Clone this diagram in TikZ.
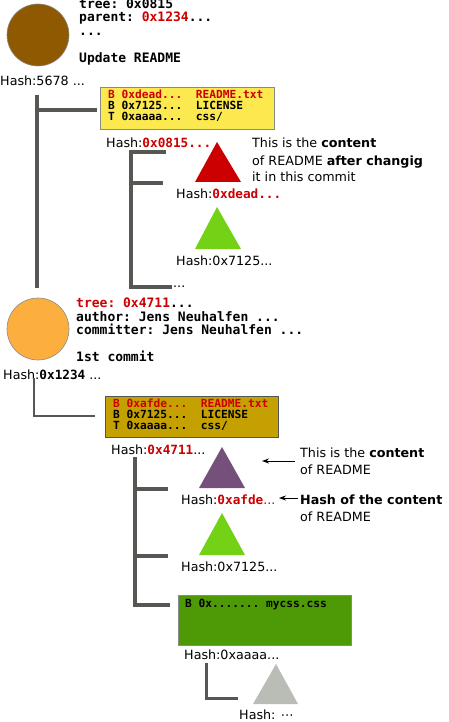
\documentclass[tikz,border=0pt]{standalone}
\usepackage{fontspec}
\setmainfont{DejaVu Sans}
\setmonofont{DejaVu Sans Mono}
\usetikzlibrary{arrows.meta}
\definecolor{tbrown}{HTML}{8F5902}
\definecolor{torange}{HTML}{FCAF3E}
\definecolor{tyellow}{HTML}{FCE94F}
\definecolor{tdyellow}{HTML}{C4A000}
\definecolor{tred}{HTML}{CC0000}
\definecolor{tgreen}{HTML}{73D216}
\definecolor{tdgreen}{HTML}{4E9A06}
\definecolor{tpurple}{HTML}{75507B}
\definecolor{tgray}{HTML}{BABDB6}
\definecolor{tline}{HTML}{555753}
\definecolor{tborder}{HTML}{888A85}
\newcommand{\mb}{\ttfamily\bfseries}
\begin{document}
\begin{tikzpicture}[x=1pt,y=-1pt,
  mono/.style={font=\fontsize{13}{14}\selectfont\ttfamily\bfseries, inner sep=0pt, anchor=base west},
  boxt/.style={font=\fontsize{11.2}{12}\selectfont\ttfamily\bfseries, inner sep=0pt, anchor=base west},
  sans/.style={font=\fontsize{12.7}{14}\selectfont, inner sep=0pt, anchor=base west},
  treebox/.style={draw=tborder, line width=1.2pt, inner sep=0pt, anchor=north west},
  treeline/.style={draw=tline, line width=4pt},
  thinline/.style={draw=tline, line width=2.5pt},
  commit/.style={circle, draw=tline!70, line width=0.6pt, minimum size=62pt, inner sep=0pt},
  note/.style={-{Stealth[length=7pt,width=5pt]}, line width=1pt, black}
]
\useasboundingbox (0,0) rectangle (448,722);

% ---- commit 1 ----
\node[commit, fill=tbrown] (c1) at (38,35) {};
\node[mono] (c1a) at (79,8.5) {tree: 0x0815};
\node[mono] (c1b) at (79,22) {parent: \textcolor{tred}{0x1234}...};
\node[mono] (c1c) at (79,35.5) {...};
\node[mono] (c1d) at (79,62.5) {Update README};
\node[sans] (h1) at (0,86) {Hash:5678 ...};

\node[treebox, fill=tyellow, minimum width=174pt, minimum height=42pt] (t1) at (100,87) {};
\node[boxt, text=tred] (t1a) at (108,99) {B 0xdead...\ \ README.txt};
\node[boxt] (t1b) at (108,110) {B 0x7125...\ \ LICENSE};
\node[boxt] (t1c) at (108,121) {T 0xaaaa...\ \ css/};

\coordinate (v1top) at (37,95);
\coordinate (v1j) at (37,110);
\coordinate (v1bot) at (37,288);
\coordinate (v1end) at (97,110);
\path[treeline] (v1top) -- (v1bot);
\path[treeline] (v1j) -- (v1end);

\node[sans] (h2) at (106,148) {Hash:\textcolor{tred}{\mb 0x0815...}};
\fill[tred] (217,142) coordinate (r1) -- (195,182) -- (241,182) -- cycle;
\node[sans] (n1a) at (252,148) {This is the \textbf{content}};
\node[sans] (n1b) at (252,165) {of README \textbf{after changig}};
\node[sans] (n1c) at (252,182) {it in this commit};

\coordinate (a1) at (166,152);
\coordinate (a2) at (131,152);
\coordinate (a3) at (131,287);
\coordinate (a4) at (172,287);
\coordinate (a5) at (131,183);
\coordinate (a6) at (163,183);
\path[treeline] (a1) -- (a2) -- (a3) -- (a4);
\path[treeline] (a5) -- (a6);
\node[sans] (dots1) at (173,287) {...};

\node[sans] (h3) at (176,198) {Hash:\textcolor{tred}{\mb 0xdead...}};
\fill[tgreen] (217,207) -- (195,249) -- (241,249) -- cycle;
\node[sans] (h4) at (176,265) {Hash:0x7125...};

% ---- commit 2 ----
\node[commit, fill=torange] (c2) at (38,329) {};
\node[mono] (c2a) at (76,307) {\textcolor{tred}{tree: 0x4711}...};
\node[mono] (c2b) at (76,321) {author: Jens Neuhalfen ...};
\node[mono] (c2c) at (76,334) {committer: Jens Neuhalfen ...};
\node[mono] (c2d) at (76,361) {1st commit};
\node[sans] (h5) at (3,379) {Hash:{\mb 0x1234} ...};

\coordinate (b1) at (34,378);
\coordinate (b2) at (34,416);
\coordinate (b3) at (95,416);
\path[thinline] (b1) -- (b2) -- (b3);

\node[treebox, draw=tline, fill=tdyellow, minimum width=173pt, minimum height=41pt] (t2) at (105,396) {};
\node[boxt, text=tred] (t2a) at (113,407) {B 0xafde...\ \ README.txt};
\node[boxt] (t2b) at (113,418.5) {B 0x7125...\ \ LICENSE};
\node[boxt] (t2c) at (113,429.5) {T 0xaaaa...\ \ css/};

\node[sans] (h6) at (111,454) {Hash:\textcolor{tred}{\mb 0x4711}...};
\fill[tpurple] (222,447) -- (199,488) -- (245,488) -- cycle;
\node[sans] (n2a) at (300,457) {This is the \textbf{content}};
\node[sans] (n2b) at (300,474) {of README};
\coordinate (p1s) at (295,461);
\coordinate (p1e) at (262,461);
\draw[note] (p1s) -- (p1e);

\node[sans] (h7) at (181,504) {Hash:\textcolor{tred}{{\mb 0xafde}...}};
\node[sans] (n3a) at (300,504) {\textbf{Hash of the content}};
\node[sans] (n3b) at (300,521) {of README};
\coordinate (p2s) at (298,498);
\coordinate (p2e) at (279,498);
\draw[note] (p2s) -- (p2e);

\fill[tgreen] (222,513) -- (199,555) -- (245,555) -- cycle;
\node[sans] (h8) at (181,571) {Hash:0x7125...};

\coordinate (d1) at (135,457);
\coordinate (d2) at (135,605);
\coordinate (d3) at (170,605);
\coordinate (d4) at (135,489);
\coordinate (d5) at (168,489);
\coordinate (d6) at (135,556);
\coordinate (d7) at (168,556);
\path[treeline] (d1) -- (d2) -- (d3);
\path[treeline] (d4) -- (d5);
\path[treeline] (d6) -- (d7);

\node[treebox, fill=tdgreen, minimum width=173pt, minimum height=50pt] (t3) at (178,595) {};
\node[boxt] (t3a) at (185,607) {B 0x....... mycss.css};
\node[sans] (h9) at (184,659) {Hash:0xaaaa...};

\coordinate (e1) at (206,663);
\coordinate (e2) at (206,698);
\coordinate (e3) at (238,698);
\path[draw=tline, line width=3pt] (e1) -- (e2) -- (e3);
\fill[tgray] (276,664) -- (253,704) -- (298,704) -- cycle;
\node[sans] (h10) at (239,719) {Hash: ⋯};
\end{tikzpicture}
\end{document}
